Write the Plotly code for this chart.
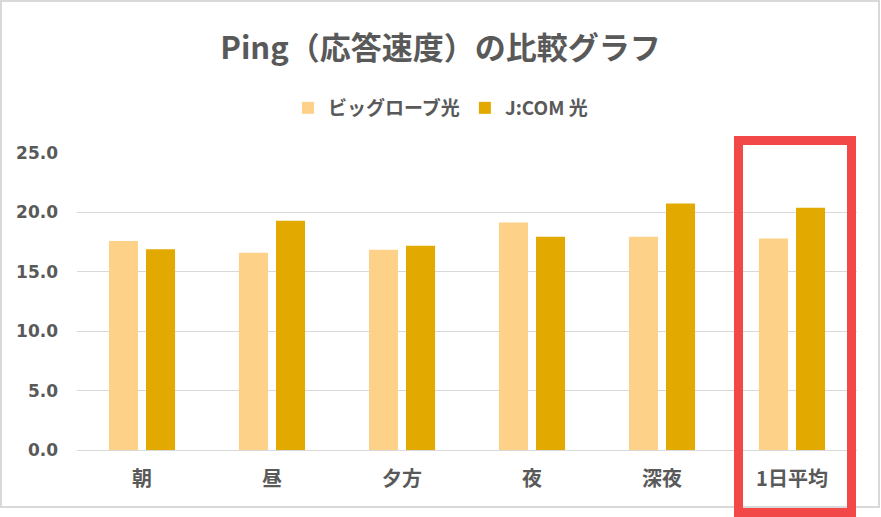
import plotly.graph_objects as go

categories = ["朝", "昼", "夕方", "夜", "深夜", "1日平均"]
biglobe = [17.6, 16.6, 16.85, 19.15, 17.95, 17.8]
jcom = [16.9, 19.3, 17.2, 17.95, 20.75, 20.4]
y_ticks = [0, 5, 10, 15, 20, 25]
y_tick_labels = ["0.0", "5.0", "10.0", "15.0", "20.0", "25.0"]

text_color = "#595959"
jp_font = "Noto Sans CJK JP"

fig = go.Figure()
fig.add_trace(go.Bar(x=categories, y=biglobe, name="ビッグローブ光", marker_color="#FDD188",
                     marker_line_width=0))
fig.add_trace(go.Bar(x=categories, y=jcom, name="J:COM 光", marker_color="#E2AA00",
                     marker_line_width=0))

# chart frame (grey) and red highlight around 1日平均
fig.add_shape(type="rect", xref="paper", yref="paper",
              x0=(1 - 77) / 780, x1=(879 - 77) / 780,
              y0=(450 - 507) / 297, y1=(450 - 1) / 297,
              line=dict(color="#D9D9D9", width=2), layer="below")
fig.add_shape(type="rect", xref="x", yref="paper",
              x0=5 - 0.4115, x1=5 + 0.4577,
              y0=(450 - 512.5) / 297, y1=(450 - 140.5) / 297,
              line=dict(color="#F24848", width=9))

fig.update_layout(
    width=881, height=517,
    margin=dict(l=77, r=24, t=153, b=67),
    paper_bgcolor="white", plot_bgcolor="white",
    barmode="group", bargap=0.43, bargroupgap=0.216,
    title=dict(text="Ping（応答速度）の比較グラフ", x=0.5, xanchor="center",
               y=1 - 48 / 517, yanchor="middle",
               font=dict(family=jp_font, size=31, color=text_color, weight="bold")),
    legend=dict(orientation="h", xref="container", x=0.5, xanchor="center",
                yref="container", y=1 - 108 / 517, yanchor="middle",
                font=dict(family=jp_font, size=19, color=text_color, weight="bold"),
                itemwidth=30),
    showlegend=True,
)
fig.update_xaxes(showgrid=False, showline=False, ticks="",
                 tickfont=dict(family=jp_font, size=20, color=text_color, weight="bold"),
                 ticklabelstandoff=15)
fig.update_yaxes(range=[0, 25], tickvals=y_ticks, ticktext=y_tick_labels,
                 showgrid=True, gridcolor="#D9D9D9", gridwidth=1.3,
                 zeroline=True, zerolinecolor="#D9D9D9", zerolinewidth=1.3,
                 tickfont=dict(family="DejaVu Sans", size=17, color=text_color, weight="bold"),
                 ticklabelstandoff=18)

fig.write_html("out.html", config={"displayModeBar": False},
               post_script="document.body.style.margin='0';")
